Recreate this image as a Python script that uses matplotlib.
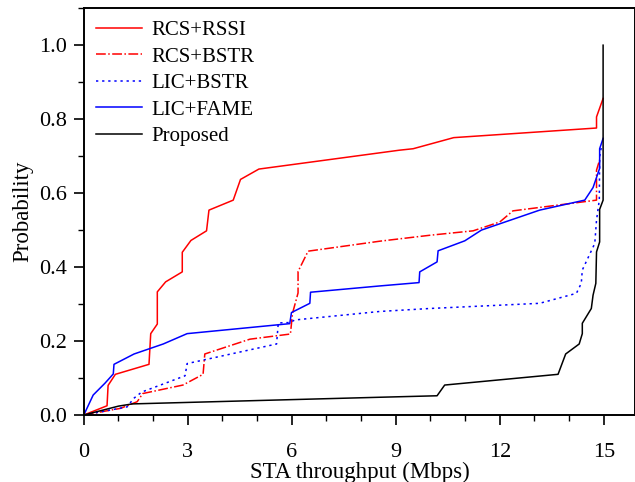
import matplotlib
matplotlib.use('Agg')
import matplotlib.pyplot as plt
from matplotlib.ticker import MultipleLocator, FormatStrFormatter

plt.rcParams['font.family'] = ['Liberation Serif', 'DejaVu Serif']

# CDF curves: (throughput Mbps, probability)
rcs_rssi_x = [0, 0.67, 0.70, 0.91, 1.88, 1.93, 2.12, 2.12, 2.36, 2.84, 2.84, 3.09,
              3.54, 3.61, 4.31, 4.52, 5.05, 9.1, 9.5, 10.67, 14.79, 14.79, 14.98]
rcs_rssi_y = [0, 0.025, 0.08, 0.11, 0.137, 0.22, 0.246, 0.333, 0.36, 0.387, 0.44, 0.472,
              0.498, 0.554, 0.581, 0.637, 0.665, 0.716, 0.72, 0.75, 0.776, 0.806, 0.856]

rcs_bstr_x = [0, 1.06, 1.54, 1.70, 2.86, 3.44, 3.49, 4.79, 5.96, 6.02, 6.18, 6.18,
              6.47, 8.54, 9.98, 11.23, 12.0, 12.38, 14.79, 14.79, 14.88]
rcs_bstr_y = [0, 0.018, 0.036, 0.058, 0.081, 0.11, 0.165, 0.205, 0.219, 0.275, 0.33, 0.388,
              0.443, 0.47, 0.486, 0.498, 0.522, 0.552, 0.581, 0.662, 0.69]

lic_bstr_x = [0, 1.25, 1.44, 1.67, 2.92, 2.98, 5.56, 5.61, 5.94, 6.09, 8.54, 9.98,
              13.15, 14.21, 14.35, 14.38, 14.74, 14.79, 14.87, 14.88, 14.93]
lic_bstr_y = [0, 0.022, 0.045, 0.062, 0.106, 0.139, 0.192, 0.249, 0.25, 0.257, 0.28, 0.288,
              0.302, 0.329, 0.356, 0.392, 0.464, 0.527, 0.581, 0.698, 0.725]

lic_fame_x = [0, 0.27, 0.61, 0.85, 0.87, 1.45, 2.29, 2.98, 5.94, 5.99, 6.52, 6.54,
              8.54, 9.67, 9.69, 10.19, 10.22, 10.99, 11.47, 13.15, 14.45, 14.69,
              14.88, 14.88, 14.98]
lic_fame_y = [0, 0.054, 0.086, 0.111, 0.137, 0.165, 0.192, 0.22, 0.247, 0.277, 0.302, 0.332,
              0.349, 0.358, 0.387, 0.414, 0.444, 0.471, 0.5, 0.554, 0.581, 0.615,
              0.667, 0.72, 0.748]

proposed_x = [0, 1.0, 1.4, 8.54, 10.19, 10.41, 13.68, 13.9, 14.29, 14.38, 14.38, 14.64,
              14.69, 14.77, 14.79, 14.88, 14.88, 14.98, 14.98]
proposed_y = [0, 0.024, 0.03, 0.048, 0.052, 0.081, 0.110, 0.165, 0.192, 0.22, 0.248, 0.288,
              0.324, 0.356, 0.441, 0.468, 0.556, 0.581, 1.0]

fig = plt.figure(figsize=(6.35, 4.82), dpi=100)
ax = fig.add_axes([0.132, 0.139, 0.868, 0.844])

ax.plot(rcs_rssi_x, rcs_rssi_y, color="red", lw=1.1, label="RCS+RSSI")
ax.plot(rcs_bstr_x, rcs_bstr_y, color="red", lw=1.1, ls="-.", label="RCS+BSTR")
ax.plot(lic_bstr_x, lic_bstr_y, color="blue", lw=1.1, ls=(0, (1.5, 2.5)), label="LIC+BSTR")
ax.plot(lic_fame_x, lic_fame_y, color="blue", lw=1.1, label="LIC+FAME")
ax.plot(proposed_x, proposed_y, color="black", lw=1.1, label="Proposed")

ax.set_xlim(0, 15.9)
ax.set_ylim(0, 1.1)
ax.xaxis.set_major_locator(MultipleLocator(3))
ax.xaxis.set_minor_locator(MultipleLocator(1))
ax.set_yticks([0, 0.2, 0.4, 0.6, 0.8, 1.0])
ax.yaxis.set_minor_locator(MultipleLocator(0.1))
ax.yaxis.set_major_formatter(FormatStrFormatter("%.1f"))
ax.tick_params(which="major", direction="out", length=7, width=1.2, labelsize=16, pad=5)
ax.tick_params(axis="x", which="major", pad=13)
ax.tick_params(which="minor", direction="out", length=4, width=1.0)
for sp in ax.spines.values():
    sp.set_linewidth(1.4)

ax.set_xlabel("STA throughput (Mbps)", fontsize=16.5, labelpad=0)
ax.set_ylabel("Probability", fontsize=16.5, labelpad=4)

ax.legend(loc="upper left", frameon=False, fontsize=15, handlelength=2.2,
          handletextpad=0.45, labelspacing=0.33, borderaxespad=0.2)

plt.savefig("out.png", dpi=100)
plt.close()
